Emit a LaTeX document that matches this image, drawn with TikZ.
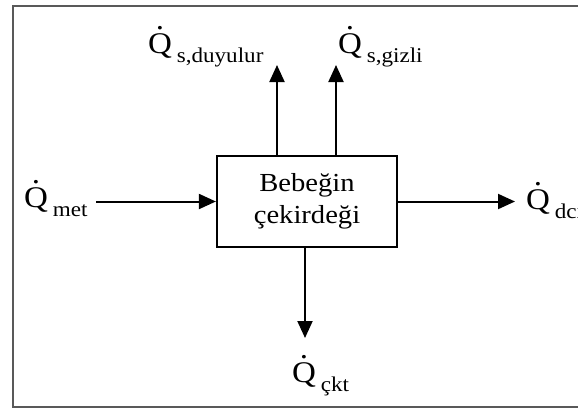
\documentclass[tikz,border=0pt]{standalone}
\usepackage{fontspec}
\setmainfont[FakeStretch=1.1]{Liberation Serif}
\usetikzlibrary{arrows.meta,positioning}

% dotted Q with a lowered index
\newcommand{\qflow}[1]{\ooalign{Q\cr\hidewidth\raisebox{0.8em}{.}\hidewidth\cr}\hspace{5pt}\raisebox{-9pt}{\fontsize{21}{21}\selectfont #1}}

\begin{document}
\begin{tikzpicture}[x=1pt, y=-1pt, line width=2pt,
                    core node/.style={draw, line width=2.2pt, minimum width=180pt, minimum height=91pt,
                                      align=center, font=\fontsize{26}{32}\selectfont},
                    heat node/.style={inner sep=0pt, anchor=base west, font=\fontsize{30}{30}\selectfont},
                    flow/.style={-{Triangle[length=17pt,width=15pt]}}]

    \useasboundingbox (0,0) rectangle (578,408);
    \draw[line width=2pt, black!65] (600,6) -- (13,6) -- (13,407) -- (600,407);

    \node[core node] (core) at (307,201.5) {Bebeğin\\çekirdeği};

    \node[heat node] (met) at (23,207)  {\qflow{met}};
    \node[heat node] (duy) at (147,53)  {\qflow{s,duyulur}};
    \node[heat node] (giz) at (337,53)  {\qflow{s,gizli}};
    \node[heat node] (dci) at (525,209) {\qflow{dci}};
    \node[heat node] (ckt) at (291,382) {\qflow{çkt}};

    \coordinate (duyTip) at (277,65);
    \coordinate (gizTip) at (336,65);
    \coordinate (cktTip) at (305,338);

    \draw[flow, shorten <=8pt]  (met.east |- core) -- (core);
    \draw[flow, shorten >=10pt] (core) -- (core -| dci.west);
    \draw[flow] (core.north -| duyTip) -- (duyTip);
    \draw[flow] (core.north -| gizTip) -- (gizTip);
    \draw[flow] (core.south -| cktTip) -- (cktTip);
\end{tikzpicture}
\end{document}
